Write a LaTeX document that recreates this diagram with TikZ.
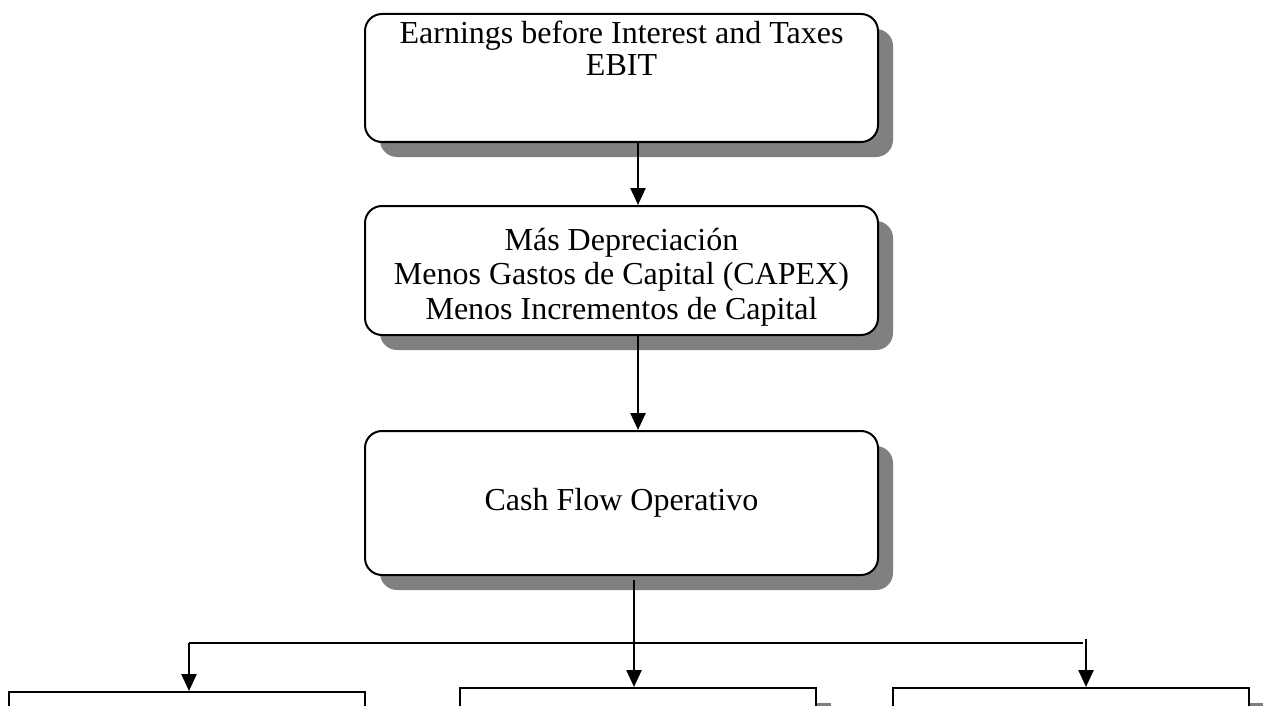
\documentclass[tikz,border=0pt]{standalone}
\usepackage{fontspec}
\setmainfont{Liberation Serif}
\usetikzlibrary{arrows.meta,shadows}

\tikzset{
  greyshadow/.style={drop shadow={shadow xshift=7.5pt,shadow yshift=-7.5pt,fill=black!50,opacity=1}},
  flowbox/.style={draw,line width=1pt,rounded corners=8.5pt,fill=white,minimum width=256.5pt,greyshadow},
  endbox/.style={draw,line width=1pt,fill=white,minimum width=178pt,minimum height=60pt,anchor=north,greyshadow},
  flowtext/.style={align=center,font=\fontsize{16}{17.25}\selectfont},
  arr/.style={line width=1.25pt,-{Triangle[width=7.5pt,length=8.5pt]}}
}

\begin{document}
\begin{tikzpicture}[x=0.5pt,y=-0.5pt]
  \useasboundingbox (0,0) rectangle (1263,706);
  \clip (0,0) rectangle (1263,706);
  % main column
  \node[flowbox,minimum height=64pt](ebit)at(621.5,78){};
  \node[flowtext,font=\fontsize{16}{16}\selectfont,anchor=north](ebittxt)at(621.5,14){Earnings before Interest and Taxes\\EBIT};
  \node[flowbox,minimum height=64.5pt](adj)at(621.5,270.5){};
  \node[flowtext](adjtxt)at(621.5,277){Más Depreciación\\Menos Gastos de Capital (CAPEX)\\Menos Incrementos de Capital};
  \node[flowbox,flowtext,minimum height=72pt](cfo)at(621.5,503){Cash Flow Operativo};
  % boxes at the bottom
  \node[endbox](left)at(187,691){};
  \node[endbox](centre)at(638,687){};
  \node[endbox](right)at(1070.5,687){};
  \coordinate (hl) at (189,643);
  \coordinate (hr) at (1083,643);
  \coordinate (rtop) at (1086,639);
  % arrows
  \draw[arr]([xshift=8.25pt]ebit.south)--([xshift=8.25pt]adj.north);
  \draw[arr]([xshift=8.25pt]adj.south)--([xshift=8.25pt]cfo.north);
  \draw[arr]([xshift=6.25pt,yshift=-2pt]cfo.south)--([xshift=6.25pt]cfo.south |- centre.north);
  \draw[line width=1.25pt](hl)--(hr);
  \draw[arr](hl)--(hl |- left.north);
  \draw[arr](rtop)--(rtop |- right.north);
\end{tikzpicture}
\end{document}
